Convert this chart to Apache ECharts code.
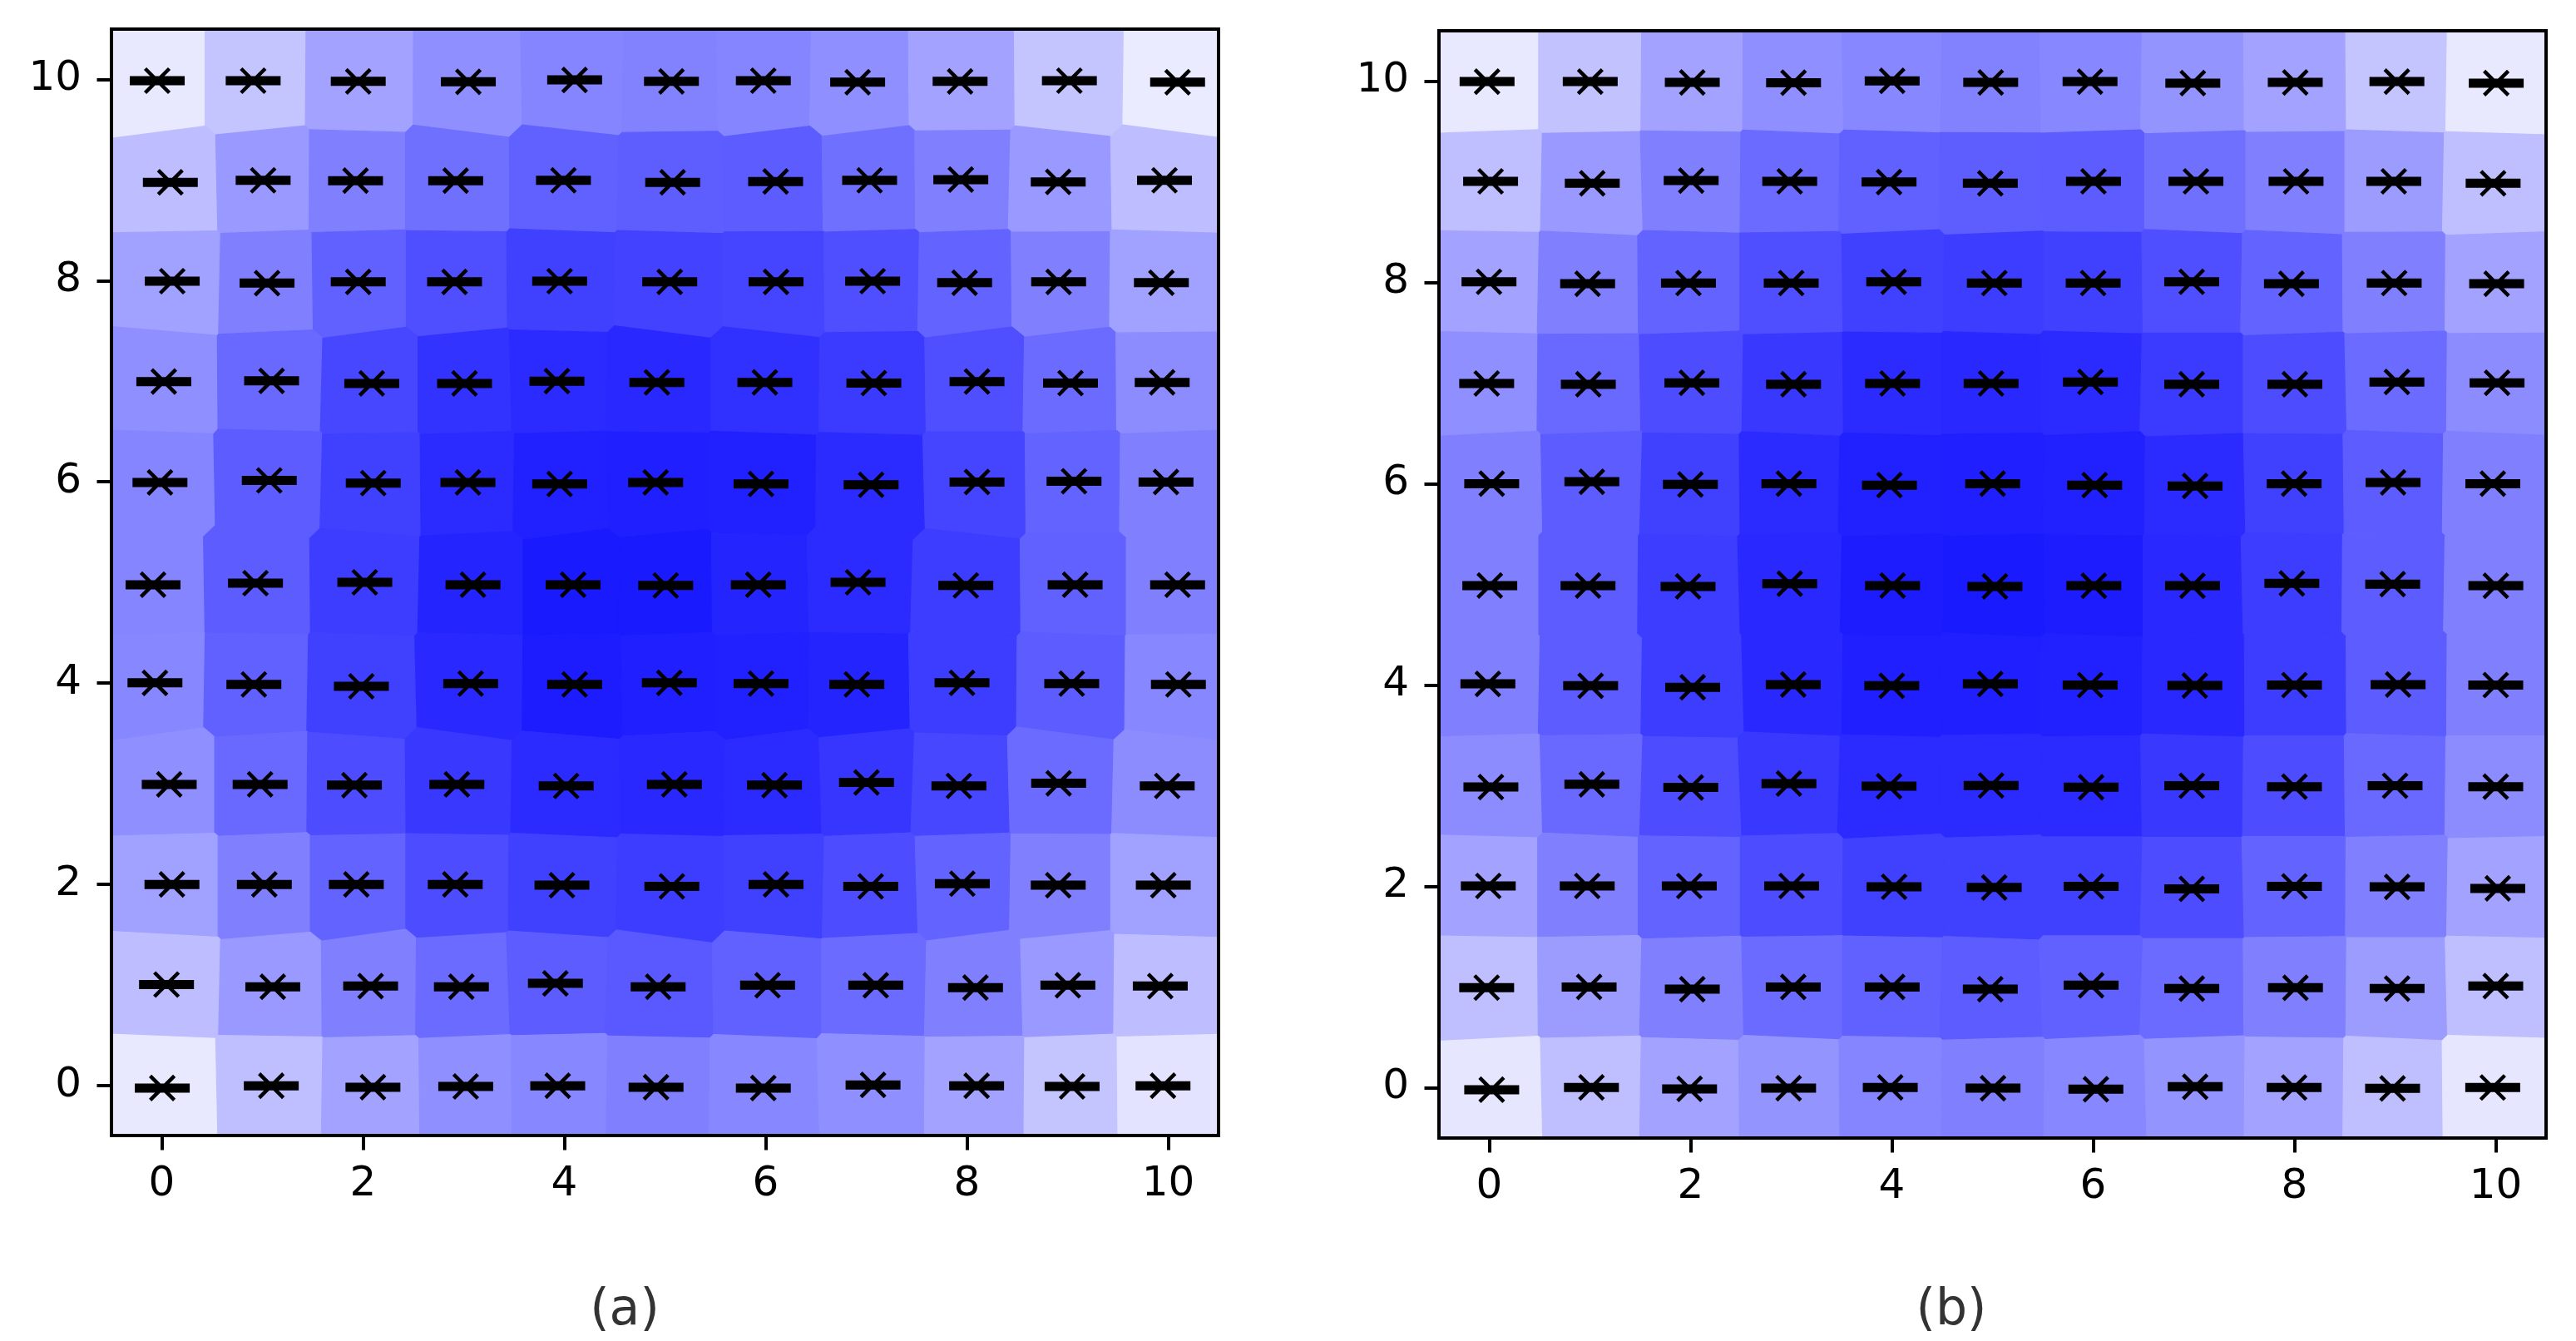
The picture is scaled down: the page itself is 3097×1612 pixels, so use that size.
<!DOCTYPE html>
<html>
<head>
<meta charset="utf-8">
<script src="https://cdn.jsdelivr.net/npm/echarts@6/dist/echarts.min.js"></script>
<style>
  html, body { margin: 0; padding: 0; background: #ffffff; }
  #chart { width: 3097px; height: 1612px; }
</style>
</head>
<body>
<div id="chart"></div>
<script>
// ---------------- data (rows listed from y = 10 down to y = 0, columns x = 0..10) ----------------
const tickValues = [0, 2, 4, 6, 8, 10];
const captions = ['(a)', '(b)'];

const aX = [
  [-0.045, 0.908, 1.952, 3.046, 4.102, 5.064, 5.977, 6.914, 7.932, 9.018, 10.093],
  [0.085, 1.007, 1.925, 2.920, 3.991, 5.076, 6.099, 7.033, 7.939, 8.907, 9.963],
  [0.104, 1.046, 1.952, 2.909, 3.953, 5.047, 6.103, 7.063, 7.977, 8.911, 9.932],
  [0.020, 1.091, 2.086, 3.008, 3.926, 4.919, 5.992, 7.075, 8.100, 9.029, 9.940],
  [-0.018, 1.068, 2.101, 3.042, 3.953, 4.907, 5.954, 7.048, 8.100, 9.064, 9.978],
  [-0.087, 0.931, 2.017, 3.092, 4.087, 5.007, 5.927, 6.918, 7.989, 9.075, 10.093],
  [-0.068, 0.915, 1.983, 3.069, 4.102, 5.043, 5.954, 6.906, 7.951, 9.041, 10.101],
  [0.074, 0.977, 1.914, 2.932, 4.018, 5.093, 6.088, 7.002, 7.920, 8.911, 9.990],
  [0.101, 1.019, 1.933, 2.916, 3.976, 5.068, 6.103, 7.044, 7.954, 8.907, 9.951],
  [0.047, 1.103, 2.075, 2.977, 3.911, 4.932, 6.019, 7.094, 8.085, 9.003, 9.921],
  [0.005, 1.088, 2.098, 3.020, 3.934, 4.911, 5.977, 7.067, 8.096, 9.045, 9.948]
];
const aY = [
  [9.987, 9.987, 9.980, 9.976, 9.995, 9.980, 9.987, 9.972, 9.980, 9.987, 9.972],
  [8.977, 8.997, 8.993, 8.993, 8.997, 8.977, 8.985, 8.997, 9.004, 8.981, 8.997],
  [7.994, 7.975, 7.987, 7.987, 7.994, 7.987, 7.987, 7.994, 7.979, 7.987, 7.979],
  [6.996, 7.003, 6.977, 6.977, 7.000, 6.988, 6.988, 6.981, 6.996, 6.981, 6.988],
  [5.993, 6.013, 5.986, 5.993, 5.978, 5.993, 5.978, 5.970, 5.997, 6.005, 5.997],
  [4.976, 4.992, 5.000, 4.976, 4.976, 4.969, 4.976, 5.000, 4.969, 4.976, 4.976],
  [4.001, 3.985, 3.966, 3.993, 3.985, 4.001, 3.993, 3.985, 4.001, 3.993, 3.985],
  [2.991, 2.991, 2.983, 2.991, 2.976, 2.991, 2.983, 3.010, 2.976, 3.002, 2.976],
  [1.996, 1.996, 1.996, 1.996, 1.989, 1.977, 1.996, 1.977, 2.004, 1.989, 1.989],
  [1.001, 0.979, 0.986, 0.979, 1.013, 0.979, 0.994, 0.994, 0.971, 0.994, 0.986],
  [-0.028, -0.005, -0.020, -0.012, -0.005, -0.020, -0.028, 0.003, -0.005, -0.012, -0.005]
];
const aVal = [
  [0.09, 0.23, 0.36, 0.44, 0.48, 0.49, 0.48, 0.44, 0.36, 0.23, 0.08],
  [0.26, 0.40, 0.50, 0.56, 0.62, 0.63, 0.64, 0.56, 0.50, 0.40, 0.26],
  [0.37, 0.50, 0.62, 0.69, 0.75, 0.74, 0.73, 0.69, 0.61, 0.50, 0.37],
  [0.44, 0.59, 0.72, 0.80, 0.83, 0.84, 0.81, 0.77, 0.69, 0.58, 0.45],
  [0.48, 0.64, 0.75, 0.83, 0.87, 0.88, 0.87, 0.83, 0.73, 0.61, 0.50],
  [0.48, 0.64, 0.76, 0.86, 0.90, 0.90, 0.86, 0.83, 0.76, 0.62, 0.50],
  [0.47, 0.62, 0.75, 0.84, 0.89, 0.88, 0.87, 0.86, 0.76, 0.64, 0.47],
  [0.44, 0.59, 0.70, 0.78, 0.83, 0.84, 0.83, 0.79, 0.72, 0.58, 0.45],
  [0.37, 0.50, 0.61, 0.70, 0.75, 0.76, 0.75, 0.70, 0.61, 0.50, 0.37],
  [0.26, 0.40, 0.50, 0.58, 0.64, 0.65, 0.62, 0.58, 0.50, 0.40, 0.26],
  [0.09, 0.25, 0.36, 0.44, 0.47, 0.50, 0.47, 0.44, 0.36, 0.23, 0.11]
];

const bX = [
  [-0.022, 1.003, 2.017, 3.023, 4.003, 4.982, 5.969, 6.990, 8.008, 9.018, 10.005],
  [0.013, 1.023, 2.006, 2.985, 3.972, 4.978, 6.003, 7.021, 8.016, 8.987, 9.974],
  [-0.003, 0.977, 1.979, 3.000, 4.018, 5.018, 6.000, 6.979, 7.970, 8.991, 10.009],
  [-0.026, 0.984, 2.013, 3.023, 4.007, 4.986, 5.973, 6.979, 8.004, 9.018, 10.013],
  [0.024, 1.019, 1.998, 2.977, 3.976, 5.001, 6.015, 7.013, 7.997, 8.980, 9.971],
  [0.005, 0.981, 1.975, 2.985, 4.007, 5.024, 6.007, 6.987, 7.974, 8.976, 10.001],
  [-0.014, 1.007, 2.021, 3.020, 3.999, 4.978, 5.970, 7.010, 8.000, 9.030, 10.000],
  [0.016, 1.019, 2.002, 2.977, 3.972, 4.986, 5.980, 6.980, 8.000, 9.000, 10.000],
  [-0.010, 0.973, 1.987, 3.004, 4.022, 5.017, 5.980, 6.980, 8.000, 9.020, 10.020],
  [-0.026, 0.992, 2.017, 3.020, 4.003, 4.978, 5.980, 6.980, 8.010, 9.020, 10.000],
  [0.024, 1.015, 1.990, 2.974, 3.984, 5.005, 6.027, 7.014, 7.997, 8.975, 9.970]
];
const bY = [
  [9.995, 9.995, 9.987, 9.984, 10.003, 9.987, 9.995, 9.980, 9.987, 9.995, 9.980],
  [9.004, 8.985, 9.012, 9.004, 8.997, 8.985, 9.004, 9.004, 9.004, 9.004, 8.985],
  [8.006, 7.987, 7.994, 7.994, 8.006, 7.994, 7.994, 8.006, 7.987, 7.994, 7.987],
  [6.996, 6.988, 7.003, 6.988, 6.996, 6.996, 7.011, 6.988, 6.988, 7.011, 7.003],
  [6.001, 6.020, 5.993, 6.001, 5.986, 6.001, 5.986, 5.978, 6.001, 6.013, 6.001],
  [4.988, 4.988, 4.980, 5.007, 4.988, 4.980, 4.987, 4.987, 5.010, 5.003, 4.987],
  [4.012, 3.993, 3.978, 4.005, 3.993, 4.012, 4.000, 3.995, 4.000, 4.005, 4.000],
  [2.987, 3.014, 2.983, 3.021, 2.995, 3.002, 2.985, 3.000, 2.990, 3.000, 2.990],
  [2.004, 2.004, 2.004, 2.004, 1.996, 1.989, 2.000, 1.975, 2.000, 1.995, 1.980],
  [0.994, 1.001, 0.979, 1.001, 1.001, 0.979, 1.018, 0.985, 0.993, 0.985, 1.010],
  [-0.020, 0.003, -0.012, -0.005, 0.003, -0.005, -0.015, 0.010, 0.002, -0.007, 0.002]
];
const bVal = [
  [0.09, 0.24, 0.36, 0.44, 0.47, 0.49, 0.47, 0.42, 0.36, 0.23, 0.09],
  [0.25, 0.40, 0.50, 0.58, 0.62, 0.63, 0.64, 0.56, 0.50, 0.39, 0.25],
  [0.36, 0.50, 0.61, 0.69, 0.75, 0.76, 0.75, 0.69, 0.61, 0.50, 0.36],
  [0.44, 0.59, 0.70, 0.78, 0.83, 0.84, 0.83, 0.77, 0.70, 0.58, 0.45],
  [0.50, 0.64, 0.75, 0.83, 0.87, 0.88, 0.87, 0.83, 0.75, 0.64, 0.50],
  [0.50, 0.64, 0.76, 0.84, 0.89, 0.90, 0.89, 0.84, 0.76, 0.64, 0.50],
  [0.50, 0.64, 0.76, 0.84, 0.88, 0.88, 0.87, 0.84, 0.76, 0.64, 0.50],
  [0.45, 0.59, 0.70, 0.78, 0.83, 0.83, 0.83, 0.78, 0.70, 0.59, 0.45],
  [0.36, 0.50, 0.61, 0.70, 0.75, 0.75, 0.75, 0.70, 0.61, 0.50, 0.36],
  [0.25, 0.39, 0.50, 0.58, 0.62, 0.64, 0.62, 0.58, 0.50, 0.39, 0.25],
  [0.10, 0.25, 0.36, 0.42, 0.48, 0.50, 0.47, 0.42, 0.36, 0.25, 0.10]
];

// ---------------- helpers ----------------
const AX_MIN = -0.5, AX_MAX = 10.5;

function toItems(X, Y, V) {
  const items = [];
  for (let r = 0; r < X.length; r++) {
    for (let c = 0; c < X[r].length; c++) {
      items.push([X[r][c], Y[r][c], V[r][c], items.length]);
    }
  }
  return items;
}

// nearest-neighbour (Voronoi) cell of each point inside the axes box, in data space
function clipHalf(poly, p, q) {
  const dx = q[0] - p[0], dy = q[1] - p[1];
  const mx = (p[0] + q[0]) / 2, my = (p[1] + q[1]) / 2;
  const f = pt => (pt[0] - mx) * dx + (pt[1] - my) * dy;
  const out = [];
  for (let i = 0; i < poly.length; i++) {
    const cur = poly[i], prev = poly[(i + poly.length - 1) % poly.length];
    const fc = f(cur), fp = f(prev);
    const inter = () => {
      const t = fp / (fp - fc);
      return [prev[0] + t * (cur[0] - prev[0]), prev[1] + t * (cur[1] - prev[1])];
    };
    if (fc <= 0) {
      if (fp > 0) out.push(inter());
      out.push(cur);
    } else if (fp <= 0) {
      out.push(inter());
    }
  }
  return out;
}
function voronoiCells(items) {
  return items.map((p, i) => {
    let poly = [[AX_MIN, AX_MIN], [AX_MAX, AX_MIN], [AX_MAX, AX_MAX], [AX_MIN, AX_MAX]];
    items.forEach((q, j) => {
      if (j !== i && poly.length) poly = clipHalf(poly, p, q);
    });
    return poly;
  });
}

const itemsA = toItems(aX, aY, aVal);
const itemsB = toItems(bX, bY, bVal);
const cellsA = voronoiCells(itemsA);
const cellsB = voronoiCells(itemsB);

function cellRenderer(cells) {
  return function (params, api) {
    const poly = cells[api.value(3)];
    const color = api.visual('color');
    return {
      type: 'polygon',
      shape: { points: poly.map(pt => api.coord(pt)) },
      style: { fill: color, stroke: color, lineWidth: 1.2 }
    };
  };
}

// marker: thick horizontal bar with an 'x' on top (path box 66 x 32.18)
const markerPath = 'path://' +
  'M0 11.5 L66 11.5 L66 22.5 L0 22.5 Z ' +
  'M20.09 0.91 L49.09 29.91 L45.91 33.09 L16.91 4.09 Z ' +
  'M16.91 29.91 L45.91 0.91 L49.09 4.09 L20.09 33.09 Z';

const FONT = 'DejaVu Sans';

function axisPair(gridIndex) {
  const lineStyle = { color: '#000000', width: 4, cap: 'square' };
  const base = { type: 'value', gridIndex, min: AX_MIN, max: AX_MAX, z: 10, splitLine: { show: false } };
  const xs = [
    Object.assign({}, base, {
      position: 'bottom',
      axisLine: { show: true, onZero: false, lineStyle },
      axisTick: { show: true, length: 17.5, lineStyle: { color: '#000000', width: 4 }, customValues: tickValues },
      axisLabel: { show: true, customValues: tickValues, margin: 34, fontSize: 50, color: '#000000', fontFamily: FONT }
    }),
    Object.assign({}, base, {
      position: 'top',
      axisLine: { show: true, onZero: false, lineStyle },
      axisTick: { show: false }, axisLabel: { show: false }
    })
  ];
  const ys = [
    Object.assign({}, base, {
      position: 'left',
      axisLine: { show: true, onZero: false, lineStyle },
      axisTick: { show: true, length: 17.5, lineStyle: { color: '#000000', width: 4 }, customValues: tickValues },
      axisLabel: { show: true, customValues: tickValues, margin: 36, fontSize: 50, color: '#000000', fontFamily: FONT }
    }),
    Object.assign({}, base, {
      position: 'right',
      axisLine: { show: true, onZero: false, lineStyle },
      axisTick: { show: false }, axisLabel: { show: false }
    })
  ];
  return { xs, ys };
}

const pA = axisPair(0), pB = axisPair(1);

const option = {
  animation: false,
  backgroundColor: '#ffffff',
  grid: [
    { left: 134, top: 35, width: 1331, height: 1330, containLabel: false },
    { left: 1730, top: 37, width: 1331, height: 1331, containLabel: false }
  ],
  xAxis: [pA.xs[0], pA.xs[1], pB.xs[0], pB.xs[1]],
  yAxis: [pA.ys[0], pA.ys[1], pB.ys[0], pB.ys[1]],
  visualMap: [
    { type: 'continuous', show: false, min: 0, max: 1, dimension: 2, seriesIndex: 0,
      inRange: { color: ['#ffffff', '#0000ff'] } },
    { type: 'continuous', show: false, min: 0, max: 1, dimension: 2, seriesIndex: 2,
      inRange: { color: ['#ffffff', '#0000ff'] } }
  ],
  series: [
    { type: 'custom', xAxisIndex: 0, yAxisIndex: 0, data: itemsA, encode: { x: 0, y: 1 },
      renderItem: cellRenderer(cellsA), silent: true, z: 1 },
    { type: 'scatter', xAxisIndex: 0, yAxisIndex: 0, data: itemsA.map(d => [d[0], d[1]]),
      symbol: markerPath, symbolSize: [66, 32.18], itemStyle: { color: '#000000', opacity: 1 },
      silent: true, z: 5 },
    { type: 'custom', xAxisIndex: 2, yAxisIndex: 2, data: itemsB, encode: { x: 0, y: 1 },
      renderItem: cellRenderer(cellsB), silent: true, z: 1 },
    { type: 'scatter', xAxisIndex: 2, yAxisIndex: 2, data: itemsB.map(d => [d[0], d[1]]),
      symbol: markerPath, symbolSize: [66, 32.18], itemStyle: { color: '#000000', opacity: 1 },
      silent: true, z: 5 }
  ],
  graphic: [
    { type: 'text', x: 751, y: 1576, z: 20,
      style: { text: captions[0], font: '60px "DejaVu Sans"', fill: '#333333',
               align: 'center', verticalAlign: 'middle', textAlign: 'center', textVerticalAlign: 'middle' } },
    { type: 'text', x: 2346, y: 1576, z: 20,
      style: { text: captions[1], font: '60px "DejaVu Sans"', fill: '#333333',
               align: 'center', verticalAlign: 'middle', textAlign: 'center', textVerticalAlign: 'middle' } }
  ]
};

const chart = echarts.init(document.getElementById('chart'), null, { renderer: 'canvas', width: 3097, height: 1612 });
chart.setOption(option);
</script>
</body>
</html>
